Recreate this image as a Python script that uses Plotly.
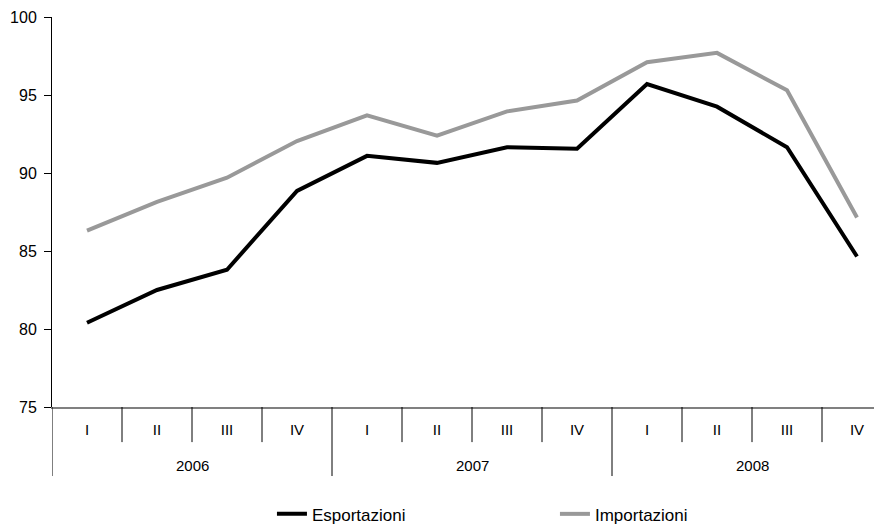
import plotly.graph_objects as go

years = ["2006", "2007", "2008"]
quarters = ["I", "II", "III", "IV"]
esportazioni = [80.4, 82.5, 83.8, 88.85, 91.1, 90.65, 91.65, 91.55, 95.7, 94.25, 91.65, 84.65]
importazioni = [86.3, 88.15, 89.7, 92.05, 93.7, 92.4, 93.95, 94.65, 97.1, 97.7, 95.3, 87.15]

labels = [q for y in years for q in quarters]
idx = list(range(len(labels)))

fig = go.Figure()
fig.add_trace(go.Scatter(x=idx, y=esportazioni, mode="lines", name="Esportazioni",
                         line=dict(color="#000000", width=4)))
fig.add_trace(go.Scatter(x=idx, y=importazioni, mode="lines", name="Importazioni",
                         line=dict(color="#999999", width=4)))

# quarter separators (short) and year separators (long)
nq = len(quarters)
for i in range(len(labels) + 1):
    b = i - 0.5
    long_one = i % nq == 0
    fig.add_shape(type="line", xref="x", yref="paper", x0=b, x1=b, y0=0,
                  y1=-0.177 if long_one else -0.09,
                  line=dict(color="#000000", width=1))

# year labels
for k, yr in enumerate(years):
    fig.add_annotation(x=k * nq + (nq - 1) / 2, y=-0.149, xref="x", yref="paper",
                       text=yr, showarrow=False, yanchor="middle",
                       font=dict(size=15, color="#000000"))

# page body has an 8px margin, so the figure is 8px smaller than the window
fig.update_layout(
    width=874, height=519,
    margin=dict(l=44, r=0, t=9, b=120, autoexpand=False),
    plot_bgcolor="white", paper_bgcolor="white",
    font=dict(family="Liberation Sans, Arial, sans-serif", color="#000000"),
    showlegend=True,
    legend=dict(orientation="h", x=0.265, xanchor="left", y=-0.229, yanchor="top",
                font=dict(size=17), entrywidth=238),
    xaxis=dict(range=[-0.5, 11.357], tickmode="array", tickvals=idx, ticktext=labels,
               ticks="", showgrid=False, zeroline=False, showline=True,
               linecolor="#808080", linewidth=2, tickfont=dict(size=15),
               ticklabelstandoff=8, automargin=False),
    yaxis=dict(range=[75, 100], tickvals=[75, 80, 85, 90, 95, 100], ticks="outside",
               ticklen=7, tickcolor="#000000", showline=True, linecolor="#000000",
               linewidth=1, showgrid=False, zeroline=False, tickfont=dict(size=16),
               ticklabelstandoff=4, automargin=False),
)

fig.write_html("out.html")
